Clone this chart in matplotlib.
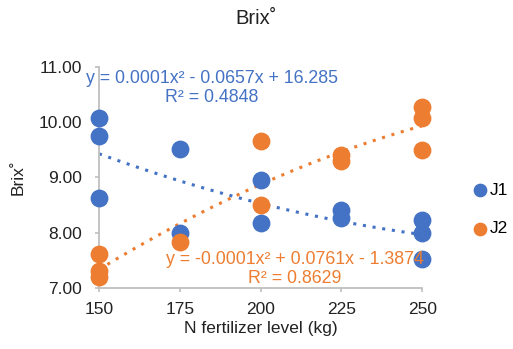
import numpy as np
import matplotlib
matplotlib.use("Agg")
import matplotlib.pyplot as plt

plt.rcParams['font.family'] = ['Liberation Sans', 'DejaVu Sans']

# data
j1_x = [150, 150, 150, 175, 175, 200, 200, 225, 225, 250, 250, 250]
j1_y = [10.07, 9.75, 8.62, 9.52, 8.00, 8.95, 8.17, 8.41, 8.26, 8.23, 8.00, 7.52]
j2_x = [150, 150, 150, 175, 200, 200, 225, 225, 250, 250, 250]
j2_y = [7.61, 7.30, 7.19, 7.83, 9.65, 8.50, 9.41, 9.30, 10.27, 10.07, 9.49]
x_ticks = [150, 175, 200, 225, 250]
y_ticks = [7.0, 8.0, 9.0, 10.0, 11.0]

blue = '#4472C4'
orange = '#ED7D31'

fig = plt.figure(figsize=(5.13, 3.49), dpi=100)
ax = fig.add_axes([0.193, 0.175, 0.630, 0.634])

ax.scatter(j1_x, j1_y, s=140, color=blue, zorder=3, clip_on=False, label='J1')
ax.scatter(j2_x, j2_y, s=140, color=orange, zorder=3, clip_on=False, label='J2')

# polynomial trendlines (order 2)
xs = np.linspace(150, 250, 200)
for xx, yy, c in [(j1_x, j1_y, blue), (j2_x, j2_y, orange)]:
    p = np.polyfit(xx, yy, 2)
    ax.plot(xs, np.polyval(p, xs), linestyle=(0, (1, 2.2)), linewidth=2.2, color=c, zorder=2)

ax.set_xlim(150, 250)
ax.set_ylim(7, 11)
ax.set_xticks(x_ticks)
ax.set_yticks(y_ticks)
ax.set_yticklabels([f"{v:.2f}" for v in y_ticks])
ax.tick_params(axis='y', length=3, width=1.2, color='#BFBFBF', labelsize=12.5, labelcolor='#222222', pad=9.5)
ax.tick_params(axis='x', length=3, width=1.2, color='#BFBFBF', labelsize=12.5, labelcolor='#222222', pad=7)
for s in ['top', 'right']:
    ax.spines[s].set_visible(False)
ax.spines['left'].set_color('#BFBFBF')
ax.spines['bottom'].set_color('#BFBFBF')
ax.spines['left'].set_linewidth(1.3)
ax.spines['bottom'].set_linewidth(1.3)

ax.set_xlabel('N fertilizer level (kg)', fontsize=12.5, color='#222222', labelpad=3)
ax.set_ylabel('Brix˚', fontsize=12.5, color='#222222', labelpad=9)
fig.suptitle('Brix˚', x=0.5, y=0.975, fontsize=14.5, color='#222222')

ax.text(0.35, 0.903, 'y = 0.0001x² - 0.0657x + 16.285\nR² = 0.4848',
        transform=ax.transAxes, ha='center', va='center', color=blue,
        fontsize=12.8, linespacing=1.1)
ax.text(0.607, 0.085, 'y = -0.0001x² + 0.0761x - 1.3874\nR² = 0.8629',
        transform=ax.transAxes, ha='center', va='center', color=orange,
        fontsize=12.8, linespacing=1.1, zorder=4)

fig.legend(loc='center left', bbox_to_anchor=(0.915, 0.40), frameon=False,
           fontsize=12.5, handletextpad=0.0, handlelength=1.2, labelspacing=1.35,
           markerscale=0.75, borderaxespad=0, borderpad=0)

fig.savefig('out.png', dpi=100)
